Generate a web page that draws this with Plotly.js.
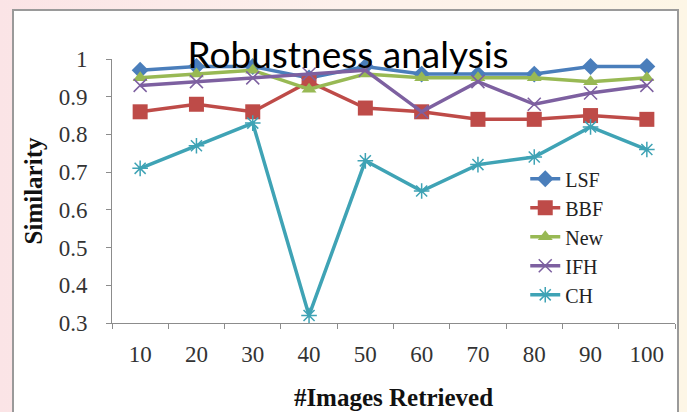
<!DOCTYPE html>
<html>
<head>
<meta charset="utf-8">
<script src="https://cdn.plot.ly/plotly-3.0.1.min.js"></script>
<style>
  html, body { margin: 0; padding: 0; width: 687px; height: 412px; overflow: hidden;
    background: linear-gradient(90deg, #fbe4e6 0%, #fdf1ec 50%, #fdf6e6 100%); }
  #frame { position: absolute; left: 12px; top: 9px; width: 667px; height: 420px;
    background: #ffffff; border: 2px solid #9a9a9a; box-sizing: border-box; }
  #chart { position: absolute; left: 0; top: 0; width: 687px; height: 412px; }
</style>
</head>
<body>
<div id="frame"></div>
<div id="chart"></div>
<script>
// Number of images retrieved (x categories)
const categories = ['10', '20', '30', '40', '50', '60', '70', '80', '90', '100'];

// Similarity scores per method
const lsf = [0.97, 0.98, 0.98, 0.95, 0.98, 0.96, 0.96, 0.96, 0.98, 0.98];
const bbf = [0.86, 0.88, 0.86, 0.94, 0.87, 0.86, 0.84, 0.84, 0.85, 0.84];
const newMethod = [0.95, 0.96, 0.97, 0.92, 0.96, 0.95, 0.95, 0.95, 0.94, 0.95];
const ifh = [0.93, 0.94, 0.95, 0.96, 0.97, 0.86, 0.94, 0.88, 0.91, 0.93];
const ch = [0.71, 0.77, 0.83, 0.32, 0.73, 0.65, 0.72, 0.74, 0.82, 0.76];

// Y axis ticks
const yTicks = [0.3, 0.4, 0.5, 0.6, 0.7, 0.8, 0.9, 1];
const yTickText = ['0.3', '0.4', '0.5', '0.6', '0.7', '0.8', '0.9', '1'];

const serif = '"Liberation Serif", "Times New Roman", serif';

function series(name, y, color, symbol, size, thin) {
  return {
    type: 'scatter', mode: 'lines+markers', name: name,
    x: categories, y: y, cliponaxis: false,
    line: { color: color, width: 3.5 },
    marker: thin
      ? { symbol: symbol, size: size, color: color, line: { color: color, width: 1.5 } }
      : { symbol: symbol, size: size, color: color, line: { width: 0 } }
  };
}

const traces = [
  series('LSF', lsf, '#4a7ebb', 'diamond', 13, false),
  series('BBF', bbf, '#be4b48', 'square', 15, false),
  series('New', newMethod, '#98b954', 'triangle-up', 13, false),
  series('IFH', ifh, '#7d60a0', 'x-thin-open', 13, true),
  series('CH', ch, '#3fa3b5', 'asterisk-open', 13, true)
];

const layout = {
  width: 687, height: 412,
  paper_bgcolor: 'rgba(0,0,0,0)', plot_bgcolor: 'rgba(0,0,0,0)',
  margin: { l: 112, r: 12, t: 59, b: 89 },
  showlegend: true,
  title: {
    text: 'Robustness analysis',
    font: { family: 'Lato, "Open Sans", sans-serif', size: 37, color: '#000000' },
    x: 0.5066, xref: 'container', xanchor: 'center',
    y: 0.867, yref: 'container', yanchor: 'middle'
  },
  xaxis: {
    type: 'category', range: [-0.5, 9.5],
    showline: true, linecolor: '#8c8c8c', linewidth: 1,
    showgrid: false, zeroline: false,
    ticks: 'outside', tickson: 'boundaries', ticklen: 5, tickcolor: '#8c8c8c',
    tickfont: { family: serif, size: 23, color: '#333333' },
    ticklabelstandoff: 10,
    title: { text: '#Images Retrieved', standoff: 22,
      font: { family: serif, size: 25, color: '#111111', weight: 'bold' } }
  },
  yaxis: {
    range: [0.3, 1],
    tickvals: yTicks, ticktext: yTickText,
    showline: true, linecolor: '#8c8c8c', linewidth: 1,
    showgrid: false, zeroline: false,
    ticks: 'outside', ticklen: 5, tickcolor: '#8c8c8c',
    tickfont: { family: serif, size: 23, color: '#333333' },
    ticklabelstandoff: 14,
    title: { text: 'Similarity', standoff: 8,
      font: { family: serif, size: 25, color: '#111111', weight: 'bold' } }
  },
  legend: {
    x: 0.734, xanchor: 'left', y: 0.62, yanchor: 'top',
    bgcolor: 'rgba(0,0,0,0)', borderwidth: 0,
    font: { family: serif, size: 20, color: '#222222' },
    itemwidth: 30, tracegroupgap: 0
  }
};

Plotly.newPlot('chart', traces, layout, { displayModeBar: false, staticPlot: true });
</script>
</body>
</html>
